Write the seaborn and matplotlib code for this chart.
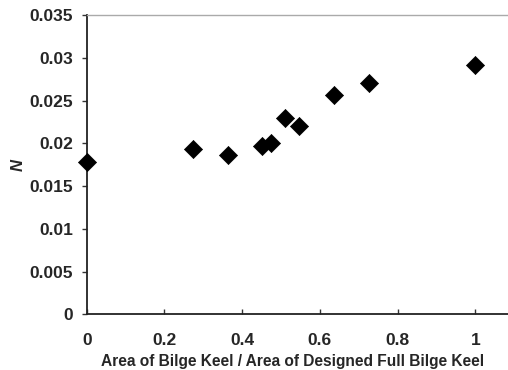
import matplotlib
matplotlib.use("Agg")
import matplotlib.pyplot as plt
import seaborn as sns
import pandas as pd

area_ratio = [0.0, 0.273, 0.364, 0.452, 0.473, 0.509, 0.545, 0.636, 0.727, 1.0]
n_values = [0.0178, 0.0193, 0.01865, 0.0197, 0.0201, 0.0230, 0.0221, 0.02567, 0.0271, 0.02915]
x_ticks = [0, 0.2, 0.4, 0.6, 0.8, 1]
y_ticks = [0, 0.005, 0.01, 0.015, 0.02, 0.025, 0.03, 0.035]
x_tick_labels = ["0", "0.2", "0.4", "0.6", "0.8", "1"]
y_tick_labels = ["0", "0.005", "0.01", "0.015", "0.02", "0.025", "0.03", "0.035"]

df = pd.DataFrame({"x": area_ratio, "N": n_values})

sns.set_style("white")
plt.rcParams["font.family"] = ["Liberation Sans", "DejaVu Sans"]
plt.rcParams["font.weight"] = "bold"

fig = plt.figure(figsize=(5.08, 3.70), dpi=100)
ax = fig.add_axes([86.7 / 508, 1 - 314.3 / 370, (508 - 86.7) / 508, (314.3 - 15.3) / 370])

sns.scatterplot(data=df, x="x", y="N", marker="D", s=85, color="black",
                edgecolor="black", linewidth=0.5, ax=ax, clip_on=False, zorder=3)

ax.set_xlim(0, 1.084)
ax.set_ylim(0, 0.035)
ax.set_xticks(x_ticks)
ax.set_xticklabels(x_tick_labels)
ax.set_yticks(y_ticks)
ax.set_yticklabels(y_tick_labels)

ax.tick_params(axis="x", direction="in", length=3.6, width=1, color="#333333",
               labelsize=12.5, pad=13.5, bottom=True)
ax.tick_params(axis="y", direction="out", length=3.6, width=1, color="#333333",
               labelsize=12.5, pad=6, left=True)
for lab in ax.get_xticklabels() + ax.get_yticklabels():
    lab.set_fontweight("bold")

for side in ["left", "bottom"]:
    ax.spines[side].set_color("#222222")
    ax.spines[side].set_linewidth(1.3)
ax.spines["top"].set_color("#aaaaaa")
ax.spines["top"].set_linewidth(1.0)
ax.spines["right"].set_visible(False)

ax.set_xlabel("Area of Bilge Keel / Area of Designed Full Bilge Keel",
              fontsize=11.2, fontweight="bold")
ax.xaxis.set_label_coords((292.5 - 86.7) / (508 - 86.7), -(361.5 - 314.3) / (314.3 - 15.3))
ax.xaxis.label.set_va("center")
ax.set_ylabel("N", fontsize=12, fontweight="bold", fontstyle="italic")
ax.yaxis.set_label_coords(-(86.7 - 18) / (508 - 86.7), 0.5)
ax.yaxis.label.set_va("center")

fig.savefig("out.png", dpi=100)
